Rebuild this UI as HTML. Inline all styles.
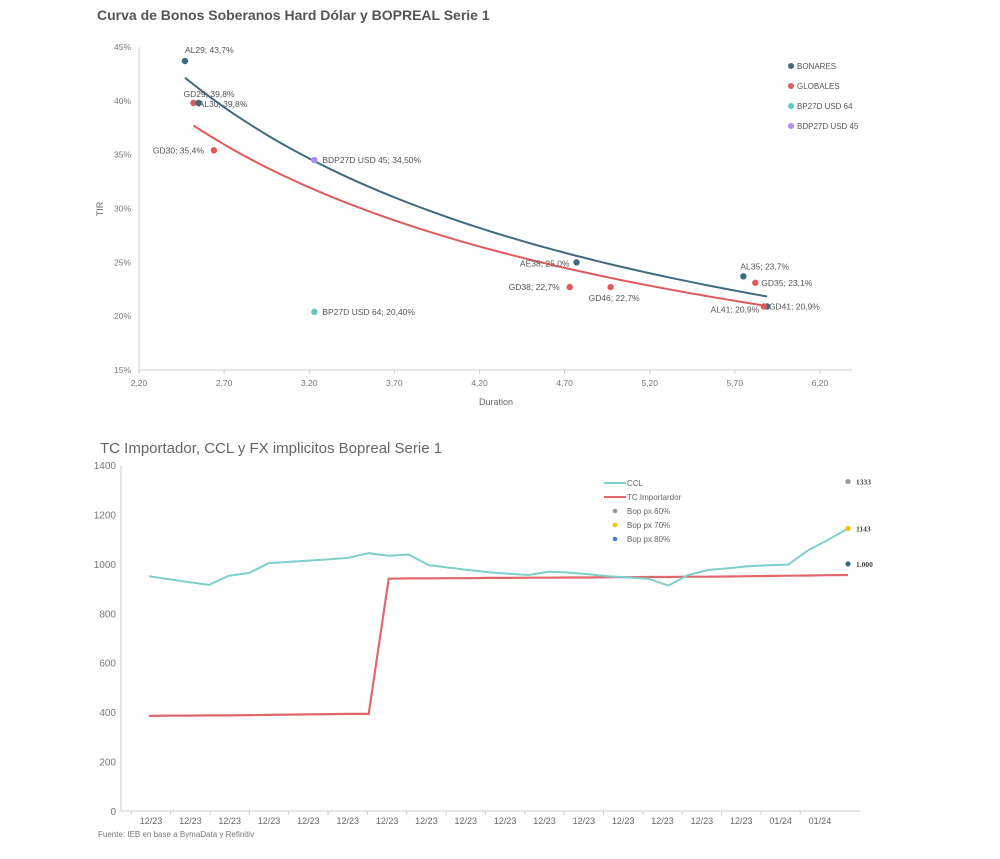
<!DOCTYPE html>
<html><head><meta charset="utf-8"><style>
html,body{margin:0;padding:0;background:#fff;}
svg{display:block;font-family:"Liberation Sans",sans-serif;}
</style></head><body>
<svg id="root" width="1000" height="859" viewBox="0 0 1000 859">
<text x="97" y="20" font-size="14" font-weight="bold" fill="#555">Curva de Bonos Soberanos Hard Dólar y BOPREAL Serie 1</text>
<g id="topchart"></g>
<text x="100" y="453" font-size="15" fill="#666">TC Importador, CCL y FX implicitos Bopreal Serie 1</text>
<g id="botchart"></g>
<text x="98" y="837" font-size="8" fill="#777">Fuente: IEB en base a BymaData y Refinitiv</text>
</svg>
<script>
// ---------- Top chart data ----------
const bondNames = ["AL29","GD29","AL30","GD30","BDP27D USD 45","BP27D USD 64","AE38","GD38","GD46","AL35","GD35","AL41","GD41"];
const bondDur = [2.47,2.52,2.55,2.64,3.23,3.23,4.77,4.73,4.97,5.75,5.82,5.89,5.87];
const bondTir = [43.7,39.8,39.8,35.4,34.5,20.4,25.0,22.7,22.7,23.7,23.1,20.9,20.9];
const bondGroup = ["B","G","B","G","P45","P64","B","G","G","B","G","B","G"];
const bondLabels = ["AL29; 43,7%","GD29; 39,8%","AL30; 39,8%","GD30; 35,4%","BDP27D USD 45; 34,50%","BP27D USD 64; 20,40%","AE38; 25,0%","GD38; 22,7%","GD46; 22,7%","AL35; 23,7%","GD35; 23,1%","AL41; 20,9%","GD41; 20,9%"];
const xTicksTop = [2.20,2.70,3.20,3.70,4.20,4.70,5.20,5.70,6.20];
const yTicksTop = [15,20,25,30,35,40,45];
const legendTop = ["BONARES","GLOBALES","BP27D USD 64","BDP27D USD 45"];

// ---------- Bottom chart data ----------
const ccl = [950,938,926,915,952,963,1003,1008,1013,1018,1025,1043,1033,1038,995,985,975,966,960,955,968,965,958,950,945,940,912,955,975,982,990,994,997,1055,1097,1143];
const tcImp = [385,386,386,387,387,388,389,390,391,392,393,393,940,941,941,942,942,943,943,944,944,945,945,946,946,947,947,948,948,949,950,951,952,953,954,955];
const bopVals = [1333,1143,1000];
const bopLabels = ["1333","1143","1.000"];
const xLabelsBot = ["12/23","12/23","12/23","12/23","12/23","12/23","12/23","12/23","12/23","12/23","12/23","12/23","12/23","12/23","12/23","12/23","01/24","01/24"];
const yTicksBot = [0,200,400,600,800,1000,1200,1400];
const legendBot = ["CCL","TC Importardor","Bop px 60%","Bop px 70%","Bop px 80%"];

const NS="http://www.w3.org/2000/svg";
function mk(parent,tag,attrs,txt){const el=document.createElementNS(NS,tag);for(const k in attrs)el.setAttribute(k,attrs[k]);if(txt!==undefined)el.textContent=txt;parent.appendChild(el);return el;}

// ---------- Top chart ----------
const topG=document.getElementById('topchart');
const tx=d=>139+(d-2.2)/(6.2-2.2)*(820-139);
const ty=v=>370-(v-15)/30*(370-47);
const colors={B:"#3e6b80",G:"#e05a5a",P64:"#5ec8c8",P45:"#a98ef0"};
let el;
el=mk(topG,'line',{x1:139,y1:47,x2:139,y2:370,stroke:"#ccc"});


el=mk(topG,'line',{x1:139,y1:370,x2:852,y2:370,stroke:"#ccc"});


yTicksTop.forEach(v=>{
  el=mk(topG,'text',{x:131,y:ty(v)+3,'font-size':8.5,fill:"#777",'text-anchor':'end'},v+"%");
  
  
});
xTicksTop.forEach(v=>{
  mk(topG,'line',{x1:tx(v),y1:370,x2:tx(v),y2:374,stroke:"#ccc"});
  el=mk(topG,'text',{x:tx(v),y:386,'font-size':8.5,fill:"#777",'text-anchor':'middle'},v.toFixed(2).replace('.',','));
  
  
});
el=mk(topG,'text',{x:496,y:405,'font-size':9,fill:"#666",'text-anchor':'middle'},"Duration");


el=mk(topG,'text',{x:103,y:209,'font-size':9,fill:"#666",'text-anchor':'middle',transform:'rotate(-90 103 209)'},"TIR");


function fit(g){const xs=[],ys=[];bondGroup.forEach((k,i)=>{if(k===g){xs.push(Math.log(bondDur[i]));ys.push(Math.log(bondTir[i]));}});
  const n=xs.length,mx=xs.reduce((a,b)=>a+b)/n,my=ys.reduce((a,b)=>a+b)/n;let sxy=0,sxx=0;
  for(let i=0;i<n;i++){sxy+=(xs[i]-mx)*(ys[i]-my);sxx+=(xs[i]-mx)**2;}const b=sxy/sxx,a=Math.exp(my-b*mx);
  const ds=bondDur.filter((d,i)=>bondGroup[i]===g);return {a,b,min:Math.min(...ds),max:Math.max(...ds)};}
[["B","trend-bonares"],["G","trend-globales"]].forEach(([g,nm])=>{
  const f=fit(g);let d="";for(let i=0;i<=60;i++){const x=f.min+(f.max-f.min)*i/60;d+=(i?"L":"M")+tx(x).toFixed(1)+","+ty(f.a*Math.pow(x,f.b)).toFixed(1);}
  el=mk(topG,'path',{d,fill:'none',stroke:colors[g],'stroke-width':2});
  
  
});
const lblOff=[[0,-8,'start'],[-10,-6,'start'],[0,4,'start'],[-10,3,'end'],[8,3,'start'],[8,3,'start'],[-7,4,'end'],[-10,3,'end'],[-22,14,'start'],[-3,-7,'start'],[6,3,'start'],[-8,6,'end'],[5,3,'start']];
bondNames.forEach((n,i)=>{
  const cx=tx(bondDur[i]),cy=ty(bondTir[i]);
  el=mk(topG,'circle',{cx,cy,r:3.2,fill:colors[bondGroup[i]]});
  
  
  const o=lblOff[i];
  el=mk(topG,'text',{x:cx+o[0],y:cy+o[1],'font-size':8.5,fill:"#555",'text-anchor':o[2]},bondLabels[i]);
  
  
});
const legCols=[colors.B,colors.G,colors.P64,colors.P45];
legendTop.forEach((t,i)=>{
  el=mk(topG,'circle',{cx:791,cy:66+i*20,r:3,fill:legCols[i]});
  
  
  el=mk(topG,'text',{x:797,y:69+i*20,'font-size':8,fill:"#555"},t);
  
  
});

// ---------- Bottom chart ----------
const botG=document.getElementById('botchart');
const bx=t=>149+t/35*(848-149);
const by=v=>811-v/1400*(811-465);
el=mk(botG,'line',{x1:121,y1:465,x2:121,y2:811,stroke:"#ccc"});


el=mk(botG,'line',{x1:121,y1:811,x2:860,y2:811,stroke:"#ccc"});


yTicksBot.forEach(v=>{
  el=mk(botG,'text',{x:116,y:by(v)+4,'font-size':10,fill:"#777",'text-anchor':'end'},v);
  
  
});
xLabelsBot.forEach((l,i)=>{
  const x=151+i*39.35;
  mk(botG,'line',{x1:x-19.7,y1:811,x2:x-19.7,y2:815,stroke:"#ccc"});
  el=mk(botG,'text',{x,y:824,'font-size':9,fill:"#666",'text-anchor':'middle'},l);
  
  
});
function drawLine(arr,col,nm,w){let d="";arr.forEach((v,i)=>{d+=(i?"L":"M")+bx(i).toFixed(1)+","+by(v).toFixed(1);});
  el=mk(botG,'path',{d,fill:'none',stroke:col,'stroke-width':w});
  
  }
drawLine(tcImp,"#e0686c","tc-importador-line",2.2);
drawLine(ccl,"#7fcfca","ccl-line",2);
const bopCols=["#999","#f5c000","#3e6b80"];
bopVals.forEach((v,i)=>{
  el=mk(botG,'circle',{cx:bx(35),cy:by(v),r:2.6,fill:bopCols[i]});
  
  
  el=mk(botG,'text',{x:bx(35)+8,y:by(v)+3,'font-size':7.5,'font-weight':'bold','font-family':'"Liberation Serif",serif',fill:"#444"},bopLabels[i]);
  
  
});
const lgC=["#7fcfca","#e0686c","#999","#f5c000","#4a7fd0"];
legendBot.forEach((t,i)=>{
  const y=483+i*14;
  if(i<2){el=mk(botG,'line',{x1:604,y1:y,x2:626,y2:y,stroke:lgC[i],'stroke-width':2});}
  else {el=mk(botG,'circle',{cx:615,cy:y,r:2.3,fill:lgC[i]});}
  
  
  el=mk(botG,'text',{x:627,y:y+3,'font-size':8,fill:"#666"},t);
  
  
});
</script>
</body></html>
